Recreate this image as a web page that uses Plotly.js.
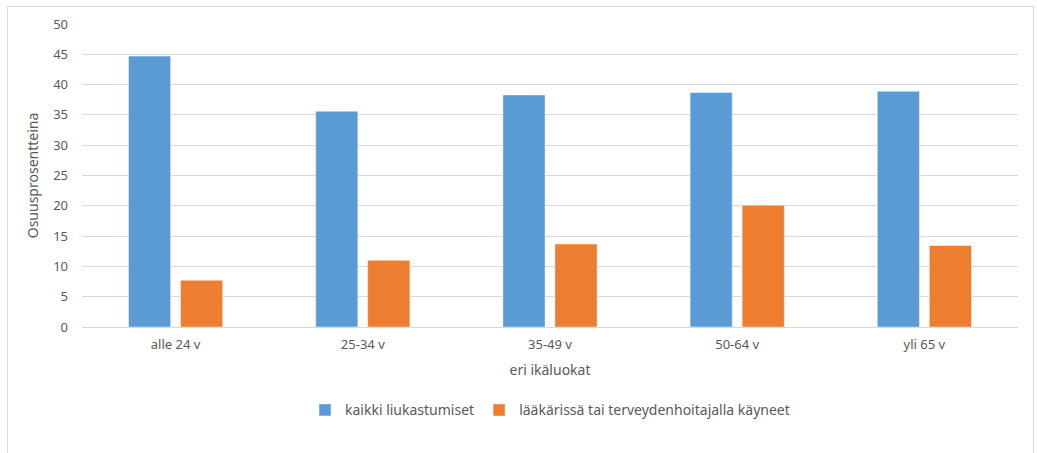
<!DOCTYPE html>
<html>
<head>
<meta charset="utf-8">
<script src="https://cdn.plot.ly/plotly-3.0.1.min.js"></script>
<style>
html,body{margin:0;padding:0;background:#fff;}
#wrap{position:relative;width:1037px;height:453px;overflow:hidden;}
#frame{position:absolute;left:7px;top:6px;width:1027px;height:470px;border:1px solid #d9d9d9;box-sizing:border-box;pointer-events:none;}
#chart{position:absolute;left:0;top:0;width:1037px;height:453px;}
</style>
</head>
<body>
<div id="wrap">
<div id="chart"></div>
<div id="frame"></div>
</div>
<script>
const categories = ["alle 24 v", "25-34 v", "35-49 v", "50-64 v", "yli 65 v"];
const kaikki = [44.7, 35.6, 38.3, 38.7, 38.9];
const laakarissa = [7.7, 11.0, 13.7, 20.1, 13.45];
const seriesNames = ["kaikki liukastumiset", "lääkärissä tai terveydenhoitajalla käyneet"];
const yTicks = [0, 5, 10, 15, 20, 25, 30, 35, 40, 45, 50];

const fontFam = "Noto Sans, Open Sans, sans-serif";
const txt = "#595959";

const traces = [
  {type: "bar", name: seriesNames[0], x: categories, y: kaikki,
   marker: {color: "#5b9bd5", line: {color: "rgba(255,255,255,0.45)", width: 1}}},
  {type: "bar", name: seriesNames[1], x: categories, y: laakarissa,
   marker: {color: "#ed7d31", line: {color: "rgba(255,255,255,0.45)", width: 1}}}
];

const layout = {
  width: 1037, height: 453,
  margin: {l: 82, r: 19, t: 24, b: 126},
  paper_bgcolor: "rgba(0,0,0,0)",
  plot_bgcolor: "#fff",
  font: {family: fontFam, size: 13, color: txt},
  barmode: "group",
  bargap: 0.444,
  bargroupgap: 0.19,
  showlegend: true,
  legend: {orientation: "h", x: 0.5, xanchor: "center", y: -0.275, yanchor: "middle",
           font: {family: fontFam, size: 14, color: txt}, itemwidth: 30, traceorder: "normal"},
  xaxis: {
    type: "category", showgrid: false, zeroline: false, showline: false, ticks: "",
    ticklabelstandoff: 8,
    tickfont: {family: fontFam, size: 13, color: txt},
    title: {text: "eri ikäluokat", font: {family: fontFam, size: 14, color: txt}, standoff: 13},
    automargin: false
  },
  yaxis: {
    range: [0, 50], tickvals: yTicks, ticktext: yTicks.map(String),
    showgrid: true, gridcolor: "#d9d9d9", gridwidth: 1,
    zeroline: true, zerolinecolor: "#d9d9d9", zerolinewidth: 1,
    showline: false, ticks: "",
    ticklabelstandoff: 13,
    tickfont: {family: fontFam, size: 13, color: txt},
    title: {text: "Osuusprosentteina", font: {family: fontFam, size: 14, color: txt}, standoff: 11},
    automargin: false
  }
};

Plotly.newPlot("chart", traces, layout, {displayModeBar: false, staticPlot: true});
</script>
</body>
</html>
